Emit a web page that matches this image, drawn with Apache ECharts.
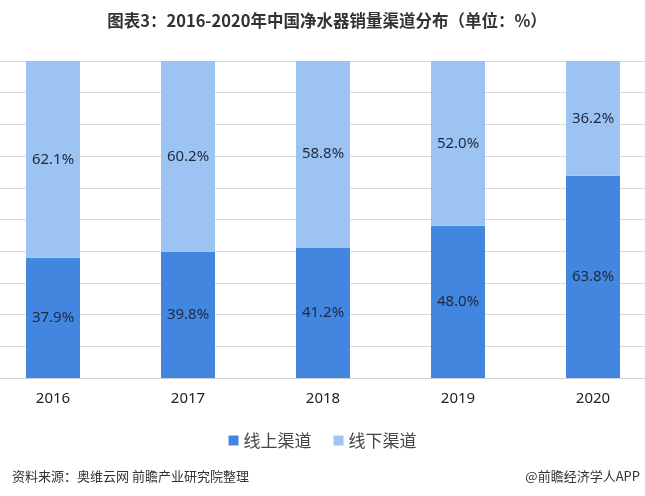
<!DOCTYPE html>
<html>
<head>
<meta charset="utf-8">
<script src="https://cdn.jsdelivr.net/npm/echarts@6/dist/echarts.min.js"></script>
<style>html,body{margin:0;padding:0;background:#fff}#c{width:645px;height:496px}</style>
</head>
<body>
<div id="c"></div>
<script>
var categories = ['2016', '2017', '2018', '2019', '2020'];
var online = [37.9, 39.8, 41.2, 48.0, 63.8];
var offline = [62.1, 60.2, 58.8, 52.0, 36.2];
var seriesNames = ['线上渠道', '线下渠道'];

var chart = echarts.init(document.getElementById('c'), null, {renderer: 'canvas'});
var labelStyle = {
  show: true, position: 'inside', color: '#1c2a3e', fontSize: 15,
  fontFamily: 'Noto Sans', formatter: function (p) { return p.value.toFixed(1) + '%'; }
};
chart.setOption({
  animation: false,
  backgroundColor: '#fff',
  title: [{
    text: '图表3：2016-2020年中国净水器销量渠道分布（单位：%）',
    left: 322, top: 7, textAlign: 'center',
    textStyle: {fontSize: 16.5, fontWeight: 'bold', color: '#333', fontFamily: 'Noto Sans CJK SC'}
  }, {
    text: '资料来源：奥维云网 前瞻产业研究院整理',
    left: 7, top: 465,
    textStyle: {fontSize: 13, fontWeight: 'normal', color: '#333', fontFamily: 'Noto Sans CJK SC'}
  }, {
    text: '@前瞻经济学人APP',
    right: 0, top: 465,
    textStyle: {fontSize: 13, fontWeight: 'normal', color: '#333', fontFamily: 'Noto Sans CJK SC'}
  }],
  legend: {
    data: seriesNames, left: 'center', top: 427,
    itemWidth: 10, itemHeight: 10, itemGap: 22,
    icon: 'rect',
    textStyle: {fontSize: 17, color: '#444', fontFamily: 'Noto Sans CJK SC'}
  },
  grid: {left: -14.5, right: -15.5, top: 61, bottom: 118, outerBoundsMode: 'none', containLabel: false},
  xAxis: {
    type: 'category', data: categories,
    axisLine: {lineStyle: {color: '#d0d0d0', width: 1}},
    axisTick: {show: false},
    axisLabel: {fontSize: 15, color: '#222', margin: 13, fontFamily: 'Noto Sans'}
  },
  yAxis: {
    type: 'value', min: 0, max: 100, interval: 10,
    axisLabel: {show: false}, axisLine: {show: false}, axisTick: {show: false},
    splitLine: {lineStyle: {color: '#d9d9d9', width: 1}}
  },
  series: [{
    name: seriesNames[0], type: 'bar', stack: 'a', data: online, barWidth: 54,
    itemStyle: {color: '#4386e0'}, label: labelStyle
  }, {
    name: seriesNames[1], type: 'bar', stack: 'a', data: offline, barWidth: 54,
    itemStyle: {color: '#9cc3f2'}, label: labelStyle
  }]
});
</script>
</body>
</html>
